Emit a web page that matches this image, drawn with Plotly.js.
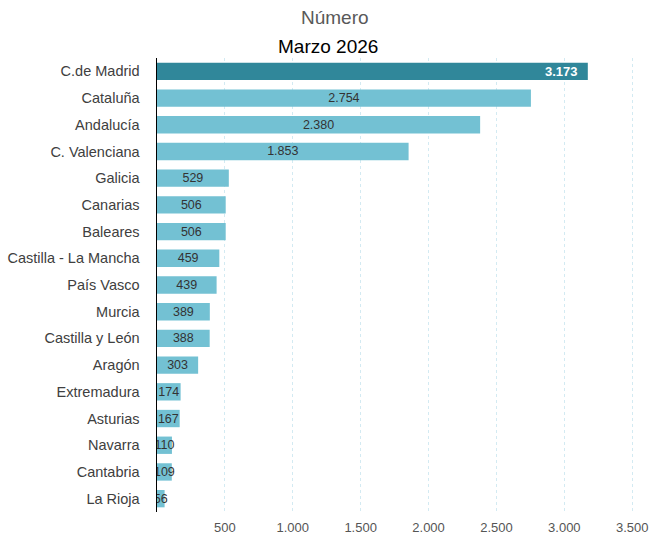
<!DOCTYPE html>
<html>
<head>
<meta charset="utf-8">
<script src="https://cdn.plot.ly/plotly-3.0.1.min.js"></script>
<style>html,body{margin:0;padding:0;background:#fff}#chart{width:649px;height:537px}</style>
</head>
<body>
<div id="chart"></div>
<script>
const regions = ["C.de Madrid","Cataluña","Andalucía","C. Valenciana","Galicia","Canarias","Baleares","Castilla - La Mancha","País Vasco","Murcia","Castilla y León","Aragón","Extremadura","Asturias","Navarra","Cantabria","La Rioja"];
const values = [3173,2754,2380,1853,529,506,506,459,439,389,388,303,174,167,110,109,56];
const tickValues = [500,1000,1500,2000,2500,3000,3500];
const titleLine1 = "Número";
const titleLine2 = "Marzo 2026";

const font = "'Liberation Sans', Arial, sans-serif";

const otherBars = {
  type: 'bar', orientation: 'h',
  x: values.slice(1), y: regions.slice(1),
  marker: {color: '#73c1d3'},
  width: 0.65,
  texttemplate: '%{x:,d}',
  textposition: 'inside',
  insidetextanchor: 'middle',
  textangle: 0,
  constraintext: 'none',
  textfont: {family: font, size: 12.5, color: '#333333'},
  hoverinfo: 'none'
};
const leadBar = {
  type: 'bar', orientation: 'h',
  x: values.slice(0,1), y: regions.slice(0,1),
  marker: {color: '#30879a'},
  width: 0.65,
  texttemplate: '<b>%{x:,d}</b>\u00a0\u00a0',
  textposition: 'inside',
  insidetextanchor: 'end',
  textangle: 0,
  constraintext: 'none',
  textfont: {family: font, size: 13, color: '#ffffff'},
  hoverinfo: 'none'
};

const layout = {
  width: 649, height: 537,
  margin: {l: 157, r: 10, t: 58, b: 25},
  separators: ',.',
  barmode: 'overlay',
  showlegend: false,
  paper_bgcolor: '#ffffff', plot_bgcolor: '#ffffff',
  font: {family: font},
  xaxis: {
    range: [0, 3550],
    tickvals: tickValues,
    tickformat: ',d',
    showgrid: true,
    gridcolor: '#d3eaf2',
    griddash: 'dot',
    gridwidth: 1,
    zeroline: false,
    showline: false,
    ticks: '',
    ticklabelstandoff: 6,
    tickfont: {family: font, size: 13, color: '#555555'}
  },
  yaxis: {
    type: 'category',
    categoryorder: 'array',
    categoryarray: regions,
    autorange: 'reversed',
    showline: true,
    linecolor: '#000000',
    linewidth: 1.5,
    showgrid: false,
    ticks: 'outside',
    ticklen: 13,
    tickcolor: 'rgba(0,0,0,0)',
    tickfont: {family: font, size: 14.5, color: '#404040'}
  },
  annotations: [
    {text: titleLine1, xref: 'paper', yref: 'paper', x: (335-157)/482, y: 1, yshift: 41, xanchor: 'center', yanchor: 'middle', showarrow: false, font: {family: font, size: 19, color: '#595959'}},
    {text: titleLine2, xref: 'paper', yref: 'paper', x: (328-157)/482, y: 1, yshift: 12, xanchor: 'center', yanchor: 'middle', showarrow: false, font: {family: font, size: 19, color: '#000000'}}
  ]
};

Plotly.newPlot('chart', [otherBars, leadBar], layout, {displayModeBar: false, staticPlot: true});
</script>
</body>
</html>
